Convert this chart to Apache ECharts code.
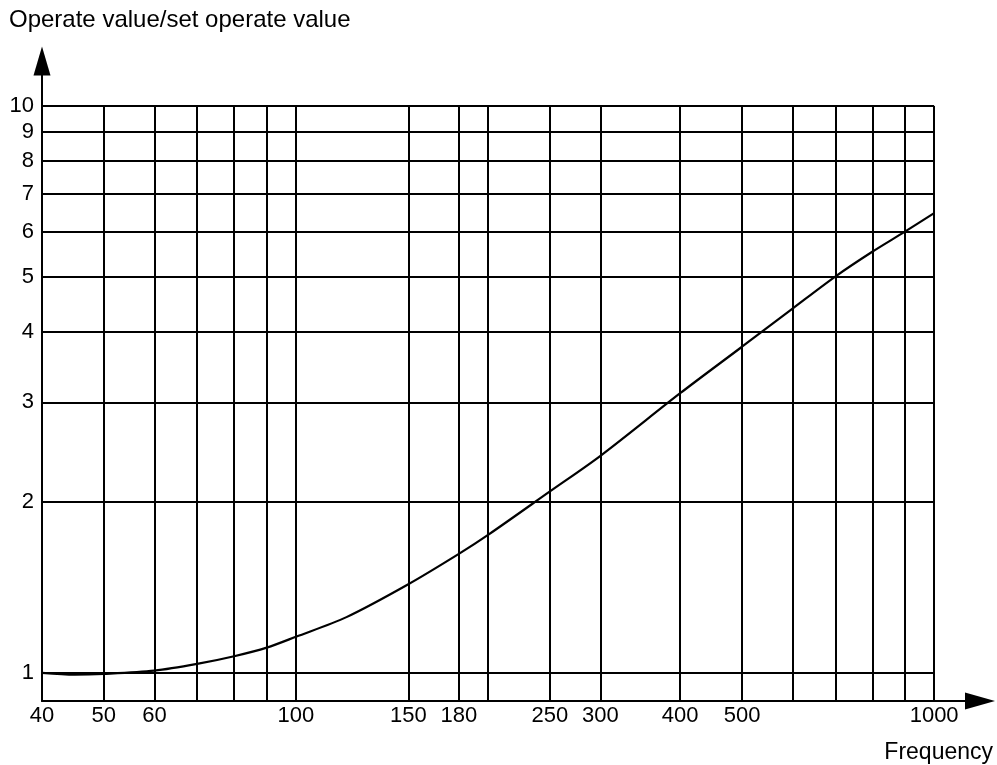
<!DOCTYPE html>
<html>
<head>
<meta charset="utf-8">
<script src="https://cdn.jsdelivr.net/npm/echarts@6/dist/echarts.min.js"></script>
<style>
html,body{margin:0;padding:0;background:#fff;}
#chart{width:997px;height:765px;}
</style>
</head>
<body>
<div id="chart"></div>
<script>
// Curve data (frequency, operate value / set operate value)
const frequency = [40, 45, 50, 60, 70, 80, 90, 100, 120, 150, 180, 200, 250, 300, 400, 500, 600, 700, 800, 900, 1000];
const ratio     = [1.0, 0.993, 0.996, 1.009, 1.037, 1.070, 1.108, 1.158, 1.254, 1.433, 1.621, 1.751, 2.089, 2.414, 3.113, 3.76, 4.39, 5.0, 5.53, 6.0, 6.47];

// Grid lines and tick labels
const xGridValues = [40, 50, 60, 70, 80, 90, 100, 150, 180, 200, 250, 300, 400, 500, 600, 700, 800, 900, 1000];
const xTickLabels = [40, 50, 60, 100, 150, 180, 250, 300, 400, 500, 1000];
const yGridValues = [1, 2, 3, 4, 5, 6, 7, 8, 9, 10];
const yTickLabels = [1, 2, 3, 4, 5, 6, 7, 8, 9, 10];

const X_MIN = 40, X_MAX = 1180, Y_MIN = 0.892, Y_MAX = 12;
const GRID_X_END = 1000, GRID_Y_END = 10;

const FONT = "'Liberation Sans', Arial, Helvetica, sans-serif";

const markData = [];
xGridValues.forEach(v => {
  const hasLabel = xTickLabels.indexOf(v) >= 0;
  markData.push([
    { coord: [v, Y_MIN],
      label: { show: hasLabel, position: 'start', formatter: String(v), distance: 4,
               color: '#000', fontSize: 22, fontFamily: FONT } },
    { coord: [v, GRID_Y_END] }
  ]);
});
yGridValues.forEach(v => {
  const hasLabel = yTickLabels.indexOf(v) >= 0;
  markData.push([
    { coord: [X_MIN, v],
      label: { show: hasLabel, position: 'start', formatter: String(v), distance: 8,
               color: '#000', fontSize: 22, fontFamily: FONT } },
    { coord: [GRID_X_END, v] }
  ]);
});

const chart = echarts.init(document.getElementById('chart'), null, { renderer: 'canvas' });
chart.setOption({
  backgroundColor: '#fff',
  animation: false,
  title: [
    { text: 'Operate value/set operate value', left: 9, top: 8, padding: 0,
      textStyle: { color: '#000', fontSize: 24, fontWeight: 'normal', fontFamily: FONT } },
    { text: 'Frequency', right: 4, top: 741, padding: 0,
      textStyle: { color: '#000', fontSize: 23, fontWeight: 'normal', fontFamily: FONT } }
  ],
  grid: { left: 42, right: 17, top: 61, bottom: 64, containLabel: false },
  xAxis: {
    type: 'log', logBase: 10, min: X_MIN, max: X_MAX,
    axisLine: { show: true, symbol: ['none', 'triangle'], symbolSize: [17, 30],
                lineStyle: { color: '#000', width: 2 } },
    axisTick: { show: false }, axisLabel: { show: false }, splitLine: { show: false }
  },
  yAxis: {
    type: 'log', logBase: 10, min: Y_MIN, max: Y_MAX,
    axisLine: { show: true, symbol: ['none', 'triangle'], symbolSize: [17, 29],
                lineStyle: { color: '#000', width: 2 } },
    axisTick: { show: false }, axisLabel: { show: false }, splitLine: { show: false }
  },
  series: [{
    type: 'line',
    data: frequency.map((f, i) => [f, ratio[i]]),
    showSymbol: false,
    smooth: 0.3,
    lineStyle: { color: '#000', width: 2.2 },
    silent: true,
    markLine: {
      silent: true,
      symbol: ['none', 'none'],
      animation: false,
      lineStyle: { color: '#000', width: 2, type: 'solid' },
      label: { show: false },
      emphasis: { disabled: true },
      data: markData
    }
  }]
});
</script>
</body>
</html>
